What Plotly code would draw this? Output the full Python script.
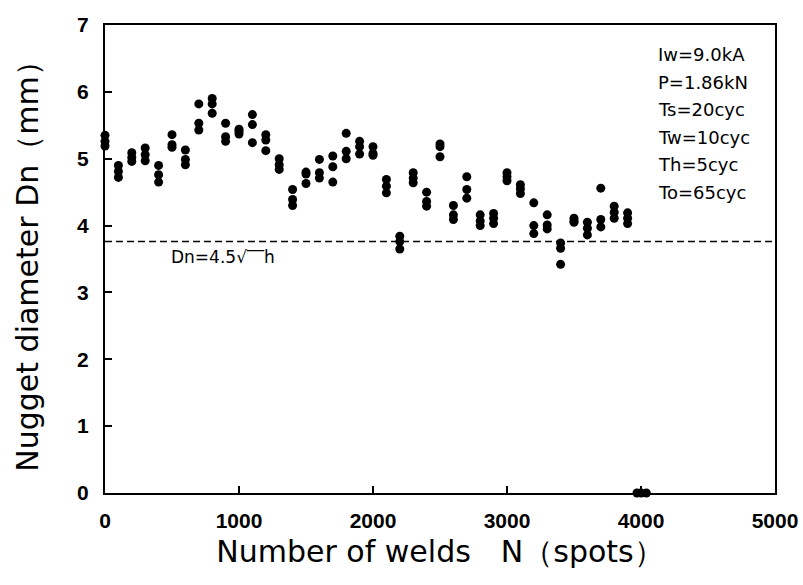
import plotly.graph_objects as go

# Weld count at which each group of nuggets was sectioned (spots)
weld_counts = [0, 100, 200, 300, 400, 500, 600, 700, 800, 900,
               1000, 1100, 1200, 1300, 1400, 1500, 1600, 1700, 1800, 1900,
               2000, 2100, 2200, 2300, 2400, 2500, 2600, 2700, 2800, 2900,
               3000, 3100, 3200, 3300, 3400, 3500, 3600, 3700, 3800, 3900]

# Measured nugget diameters for each group (mm)
diameters = [
    [5.35, 5.26, 5.19],
    [4.90, 4.81, 4.72],
    [5.09, 5.02, 4.96],
    [5.16, 5.06, 4.97],
    [4.90, 4.76, 4.65],
    [5.36, 5.21, 5.17],
    [5.13, 4.99, 4.91],
    [5.82, 5.53, 5.43],
    [5.90, 5.82, 5.68],
    [5.53, 5.33, 5.26],
    [5.44, 5.41, 5.37],
    [5.66, 5.51, 5.24],
    [5.36, 5.28, 5.12],
    [5.00, 4.91, 4.84],
    [4.54, 4.39, 4.30],
    [4.80, 4.77, 4.63],
    [4.99, 4.79, 4.71],
    [5.04, 4.88, 4.65],
    [5.38, 5.11, 5.00],
    [5.26, 5.18, 5.07],
    [5.18, 5.08, 5.05],
    [4.69, 4.59, 4.49],
    [3.84, 3.76, 3.65],
    [4.79, 4.71, 4.64],
    [4.50, 4.36, 4.29],
    [5.22, 5.18, 5.03],
    [4.30, 4.16, 4.09],
    [4.73, 4.54, 4.41],
    [4.16, 4.07, 4.00],
    [4.18, 4.11, 4.03],
    [4.79, 4.73, 4.67],
    [4.61, 4.55, 4.48],
    [4.34, 4.00, 3.88],
    [4.16, 4.01, 3.95],
    [3.74, 3.66, 3.42],
    [4.11, 4.07, 4.05],
    [4.05, 3.96, 3.86],
    [4.56, 4.09, 3.98],
    [4.29, 4.20, 4.11],
    [4.19, 4.11, 4.03],
]

# Failed welds at end of life (no nugget)
fail_counts = [3970, 4000, 4040]
fail_diameters = [0, 0, 0]

# Minimum nugget diameter criterion Dn = 4.5*sqrt(h)
criterion = 3.76

conditions = ["Iw=9.0kA", "P=1.86kN", "Ts=20cyc", "Tw=10cyc", "Th=5cyc", "To=65cyc"]

x_vals, y_vals = [], []
for n, group in zip(weld_counts, diameters):
    for d in group:
        x_vals.append(n)
        y_vals.append(d)
x_vals += fail_counts
y_vals += fail_diameters

fig = go.Figure()
fig.add_trace(go.Scatter(
    x=x_vals, y=y_vals, mode="markers",
    marker=dict(color="black", size=9, line=dict(width=0)),
    cliponaxis=False, showlegend=False,
))

fig.add_shape(type="line", xref="paper", yref="y", x0=0, x1=1,
              y0=criterion, y1=criterion,
              line=dict(color="black", width=1.5, dash="7px,4px"))

sans = "DejaVu Sans"
fig.add_annotation(x=480, y=criterion - 0.05, xref="x", yref="y",
                   text="Dn=4.5√‾‾h", showarrow=False, xanchor="left", yanchor="top",
                   font=dict(family=sans, size=17, color="black"))

for i, t in enumerate(conditions):
    fig.add_annotation(x=4115, y=6.56 - i * 0.413, xref="x", yref="y",
                       text=t, showarrow=False, xanchor="left", yanchor="middle",
                       font=dict(family=sans, size=18, color="black"))

axis_common = dict(
    showline=True, linecolor="black", linewidth=2, mirror=True,
    ticks="inside", ticklen=7, tickwidth=1.5, tickcolor="black",
    showgrid=False, zeroline=False, automargin=False,
    tickfont=dict(family="Liberation Sans", size=21, color="black", weight="bold"),
)

fig.update_xaxes(range=[0, 5000], tickvals=[0, 1000, 2000, 3000, 4000, 5000],
                 ticklabelstandoff=8,
                 title=dict(text="Number of welds　N（spots）",
                            font=dict(family=sans, size=30, color="black"), standoff=10),
                 **axis_common)
fig.update_yaxes(range=[0, 7], tickvals=[0, 1, 2, 3, 4, 5, 6, 7],
                 ticklabelstandoff=10,
                 title=dict(text="Nugget diameter Dn（mm）",
                            font=dict(family=sans, size=30, color="black"), standoff=30),
                 **axis_common)

fig.update_layout(
    width=803, height=585,
    margin=dict(l=105, r=28, t=25, b=92),
    paper_bgcolor="white", plot_bgcolor="white",
)

fig.write_html("out.html")
